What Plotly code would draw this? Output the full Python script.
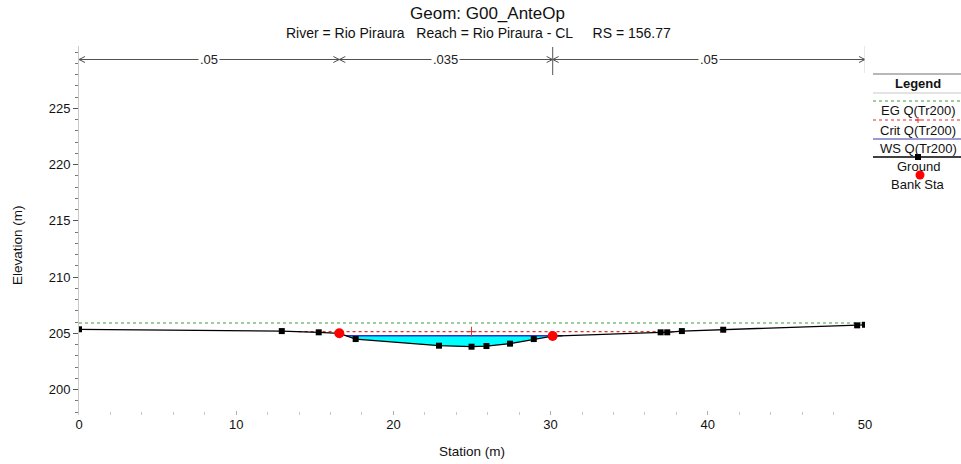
import numpy as np
import plotly.graph_objects as go

# ---------------- data ----------------
station = [0.0, 12.9, 15.25, 16.56, 17.6, 22.9, 24.97, 25.92, 27.42, 28.93,
           30.13, 37.0, 37.42, 38.35, 40.98, 49.5, 50.0]
elevation = [205.36, 205.20, 205.09, 205.00, 204.49, 203.90, 203.81, 203.87,
             204.08, 204.49, 204.76, 205.09, 205.09, 205.20, 205.32, 205.71, 205.76]
bank_stations = [16.56, 30.13]
ws_elev = 204.79
crit_elev = 205.15
eg_elev = 205.92
n_values = [".05", ".035", ".05"]
n_breaks = [0.0, 16.56, 30.13, 50.0]
x_ticks = [0, 10, 20, 30, 40, 50]
y_ticks = [200, 205, 210, 215, 220, 225]
legend_labels = ["EG Q(Tr200)", "Crit Q(Tr200)", "WS Q(Tr200)", "Ground", "Bank Sta"]
title_text = "Geom: G00_AnteOp"
sub_text = "River = Rio Piraura\u00a0\u00a0 Reach = Rio Piraura - CL\u00a0\u00a0\u00a0\u00a0 RS = 156.77"

FONT = "Liberation Sans, Arial, sans-serif"
W, H = 961, 464
ML, MR, MT, MB = 79, 96, 46, 49
PW, PH = W - ML - MR, H - MT - MB

st = np.array(station)
el = np.array(elevation)


def px_x(px):
    return (px - ML) / PW


def px_y(py):
    return (H - MB - py) / PH


def wet_extent(level):
    i0 = int(np.argmin(el))
    i = i0
    while i > 0 and el[i - 1] < level:
        i -= 1
    j = i0
    while j < len(el) - 1 and el[j + 1] < level:
        j += 1
    xl = st[i - 1] + (el[i - 1] - level) / (el[i - 1] - el[i]) * (st[i] - st[i - 1])
    xr = st[j] + (level - el[j]) / (el[j + 1] - el[j]) * (st[j + 1] - st[j])
    return xl, xr, i, j


ws_l, ws_r, wi, wj = wet_extent(ws_elev)
cr_l, cr_r, _, _ = wet_extent(crit_elev)
thalweg = st[int(np.argmin(el))]

fig = go.Figure()

# water fill
fx = [ws_l] + list(st[wi:wj + 1]) + [ws_r]
fy = [ws_elev] + list(el[wi:wj + 1]) + [ws_elev]
fig.add_trace(go.Scatter(x=fx, y=fy, fill="toself", fillcolor="#00ffff",
                         line=dict(width=0), mode="lines", hoverinfo="skip"))
# WS
fig.add_trace(go.Scatter(x=[ws_l, ws_r], y=[ws_elev, ws_elev], mode="lines",
                         line=dict(color="#3030d8", width=1.6)))
# EG
fig.add_trace(go.Scatter(x=[n_breaks[0], n_breaks[-1]], y=[eg_elev, eg_elev], mode="lines",
                         line=dict(color="#3c9a3c", width=1.2, dash="dot")))
# Crit
fig.add_trace(go.Scatter(x=[cr_l, cr_r], y=[crit_elev, crit_elev], mode="lines",
                         line=dict(color="#e03030", width=1.1, dash="dot")))
fig.add_trace(go.Scatter(x=[thalweg], y=[crit_elev], mode="markers",
                         marker=dict(symbol="cross-thin", size=7,
                                     line=dict(color="#e03030", width=1))))
# Ground
fig.add_trace(go.Scatter(x=station, y=elevation, mode="lines+markers",
                         line=dict(color="black", width=1.3),
                         marker=dict(symbol="square", size=6, color="black")))
# Bank stations
bank_el = list(np.interp(bank_stations, st, el))
fig.add_trace(go.Scatter(x=bank_stations, y=bank_el, mode="markers",
                         marker=dict(symbol="circle", size=10, color="#ff0000")))

shapes = []
annotations = []

# Manning's n line
ny = px_y(59.5)
shapes.append(dict(type="line", xref="x", yref="paper", x0=n_breaks[0], x1=n_breaks[-1],
                   y0=ny, y1=ny, line=dict(color="#505050", width=1)))
for k in range(len(n_values)):
    a, b = n_breaks[k], n_breaks[k + 1]
    shapes.append(dict(type="path", xref="x", yref="paper", xsizemode="pixel", ysizemode="pixel",
                       xanchor=a, yanchor=ny, path="M 6 3 L 0 0 L 6 -3",
                       line=dict(color="#505050", width=1)))
    shapes.append(dict(type="path", xref="x", yref="paper", xsizemode="pixel", ysizemode="pixel",
                       xanchor=b, yanchor=ny, path="M -6 3 L 0 0 L -6 -3",
                       line=dict(color="#505050", width=1)))
    annotations.append(dict(x=(a + b) / 2, y=ny, xref="x", yref="paper", text=n_values[k],
                            showarrow=False, bgcolor="white", borderpad=1,
                            xanchor="center", yanchor="middle",
                            font=dict(family=FONT, size=13, color="#222")))
# vertical markers at right bank and right edge
shapes.append(dict(type="line", xref="x", yref="paper", x0=bank_stations[1], x1=bank_stations[1],
                   y0=px_y(75), y1=px_y(47), line=dict(color="#707070", width=1.2)))
shapes.append(dict(type="line", xref="x", yref="paper", x0=n_breaks[-1], x1=n_breaks[-1],
                   y0=px_y(73), y1=px_y(46), line=dict(color="#d0d0d0", width=1)))

# ---------------- legend (drawn) ----------------
lx0, lx1 = px_x(873), px_x(961)
lxc = px_x(918)


def hline(py, color, width, dash="solid"):
    shapes.append(dict(type="line", xref="paper", yref="paper", x0=lx0, x1=lx1,
                       y0=px_y(py), y1=px_y(py), line=dict(color=color, width=width, dash=dash)))


def ltext(py, text, bold=False):
    annotations.append(dict(x=lxc, y=px_y(py), xref="paper", yref="paper", showarrow=False,
                            xanchor="center", yanchor="middle",
                            text=("<b>%s</b>" % text) if bold else text,
                            font=dict(family=FONT, size=13, color="#111")))


hline(74, "#707070", 1)
ltext(83.5, "Legend", bold=True)
hline(93, "#c8c8c8", 1)
hline(101, "#3c9a3c", 1.2, "dot")
ltext(111, legend_labels[0])
hline(120, "#e03030", 1.1, "dot")
shapes.append(dict(type="path", xref="paper", yref="paper", xsizemode="pixel", ysizemode="pixel",
                   xanchor=lxc, yanchor=px_y(120), path="M -3 0 L 3 0 M 0 -3 L 0 3",
                   line=dict(color="#e03030", width=1)))
ltext(130.5, legend_labels[1])
hline(139, "#3838a8", 1.2)
ltext(148.5, legend_labels[2])
hline(157, "black", 1.4)
shapes.append(dict(type="rect", xref="paper", yref="paper", xsizemode="pixel", ysizemode="pixel",
                   xanchor=lxc, yanchor=px_y(157), x0=-3, x1=3, y0=-3, y1=3,
                   fillcolor="black", line=dict(width=0)))
ltext(166, legend_labels[3])
shapes.append(dict(type="circle", xref="paper", yref="paper", xsizemode="pixel", ysizemode="pixel",
                   xanchor=px_x(920), yanchor=px_y(175), x0=-4.5, x1=4.5, y0=-4.5, y1=4.5,
                   fillcolor="#ff0000", line=dict(width=0)))
ltext(184, legend_labels[4])

# ---------------- titles ----------------
def tanno(px, py, text, size, angle=0):
    annotations.append(dict(x=px_x(px), y=px_y(py), xref="paper", yref="paper", showarrow=False,
                            xanchor="center", yanchor="middle", text=text, textangle=angle,
                            font=dict(family=FONT, size=size, color="#111")))


tanno(488, 13, title_text, 17)
tanno(478, 33, sub_text, 14)
tanno(472, 451, "Station (m)", 13.5)
tanno(18, 245, "Elevation (m)", 13.5, -90)

fig.update_layout(
    width=W, height=H, margin=dict(l=ML, r=MR, t=MT, b=MB),
    paper_bgcolor="white", plot_bgcolor="white", showlegend=False,
    shapes=shapes, annotations=annotations,
    xaxis=dict(range=[0, 50], tickvals=x_ticks, showgrid=False, zeroline=False, showline=False,
               ticks="inside", ticklen=4, tickcolor="#b0b0b0",
               minor=dict(dtick=2, ticks="inside", ticklen=3, tickcolor="#c8c8c8"),
               tickfont=dict(family=FONT, size=13, color="#111")),
    yaxis=dict(range=[197.74, 230.54], tickvals=y_ticks, showgrid=False, zeroline=False,
               showline=True, linecolor="#c8c8c8", linewidth=1,
               ticks="outside", ticklen=5, tickcolor="#555",
               minor=dict(dtick=1, ticks="outside", ticklen=3, tickcolor="#777"),
               tickfont=dict(family=FONT, size=13, color="#111")),
)

fig.write_html("out.html", config={"displayModeBar": False},
               post_script="document.body.style.margin='0';document.body.style.overflow='hidden';")
